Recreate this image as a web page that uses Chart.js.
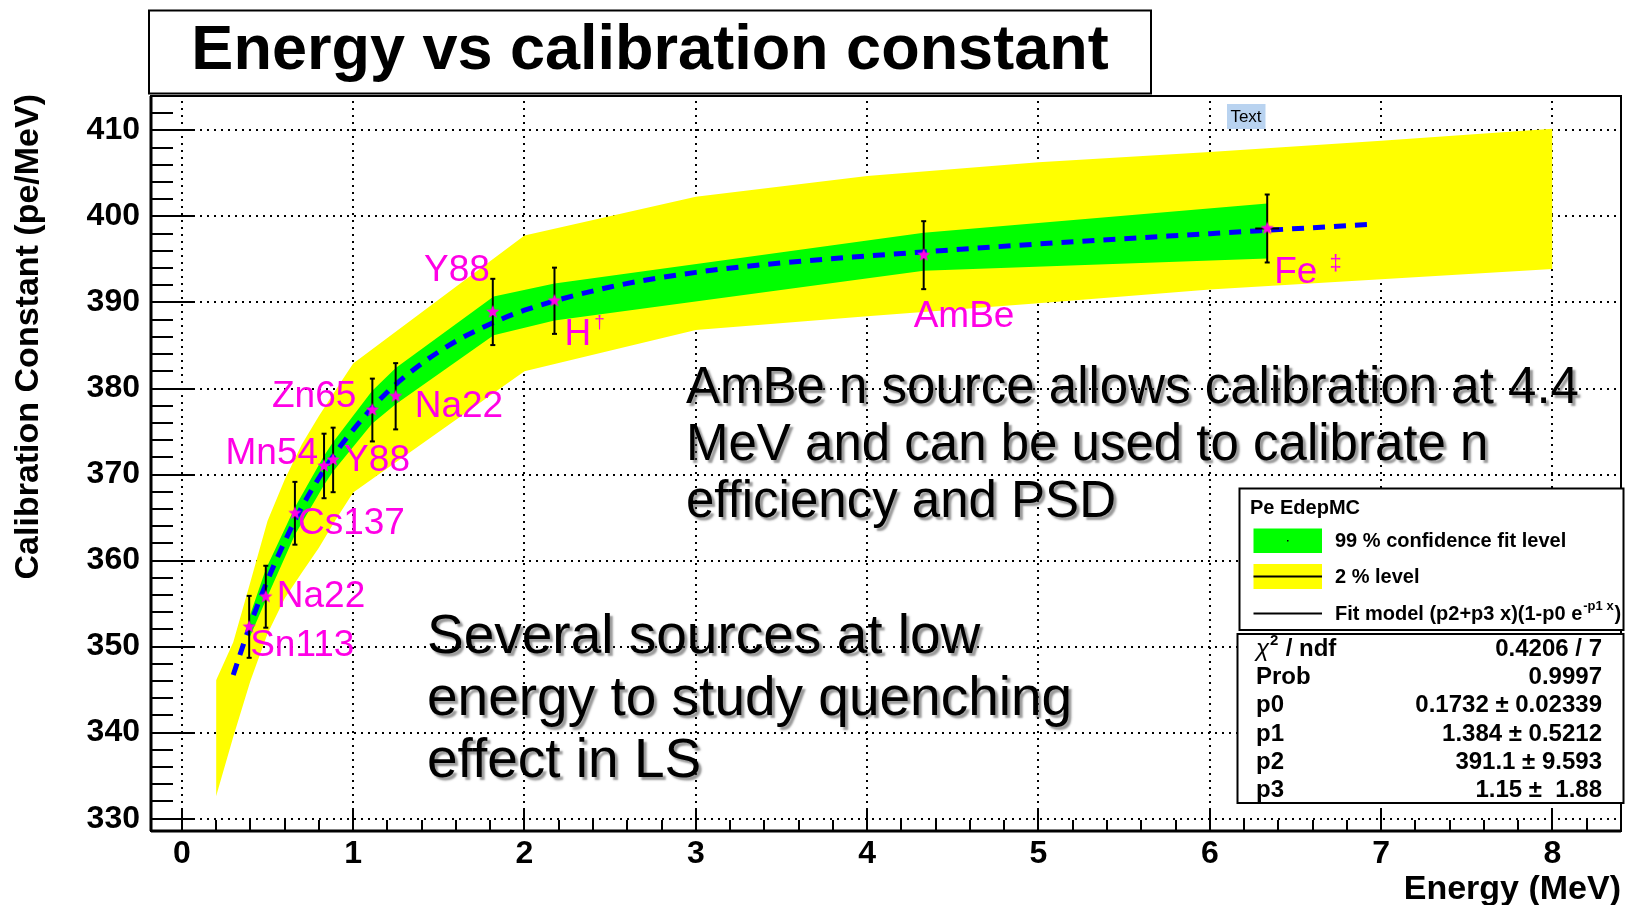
<!DOCTYPE html>
<html>
<head>
<meta charset="utf-8">
<title>Energy vs calibration constant</title>
<script src="https://cdn.jsdelivr.net/npm/chart.js@4.4.1/dist/chart.umd.min.js"></script>
<style>
  html, body { margin: 0; padding: 0; background: #fff; }
  #wrap { width: 1629px; height: 905px; }
</style>
</head>
<body>
<div id="wrap"><canvas id="calib" width="1629" height="905"></canvas></div>
<script>
// calibration sources (energy in MeV, constant in pe/MeV)
const sourceNames = ['Sn113', 'Na22', 'Cs137', 'Mn54', 'Y88', 'Zn65', 'Na22', 'Y88', 'H', 'AmBe', 'Fe'];
const sourceEnergy = [0.393, 0.49, 0.66, 0.83, 0.883, 1.112, 1.248, 1.815, 2.175, 4.33, 6.335];
const sourceCalib = [352.3, 355.8, 365.5, 371.0, 371.7, 377.5, 379.1, 388.9, 390.2, 395.5, 398.6];
const sourceErr = [3.6, 3.6, 3.65, 3.75, 3.75, 3.65, 3.85, 3.85, 3.85, 3.95, 3.95];
const sourceEnergyErr = [0, 0, 0, 0, 0, 0, 0, 0, 0, 0, 0.07];

// fit model
const fitEnergy = [0.3, 0.35, 0.4, 0.5, 0.6, 0.7, 0.8, 0.9, 1.0, 1.2, 1.4, 1.6, 1.8, 2.0, 2.5, 3.0, 3.5, 4.0, 5.0, 6.0, 6.95];
const fitCalib = [346.7, 349.7, 352.6, 357.7, 362.2, 366.2, 369.6, 372.6, 375.2, 379.6, 382.9, 385.5, 387.5, 389.1, 391.8, 393.5, 394.6, 395.4, 396.8, 398.0, 399.1];

// 99 % confidence band (green)
const confEnergy = [0.39, 0.49, 0.66, 0.83, 0.88, 1.11, 1.25, 1.82, 2.175, 4.33, 6.335];
const confHigh = [353.2, 359.0, 366.2, 372.2, 373.7, 379.7, 382.4, 390.7, 392.2, 398.1, 401.5];
const confLow = [350.8, 355.4, 363.0, 368.8, 370.3, 375.9, 378.2, 386.2, 387.9, 393.7, 395.1];

// 2 % level band (yellow)
const levelEnergy = [0.2, 0.3, 0.4, 0.5, 0.6, 0.7, 0.8, 0.9, 1, 2, 3, 4, 5, 6, 7, 8];
const levelHigh = [346.1, 350.5, 357.5, 364.6, 369.4, 373.5, 376.8, 379.9, 382.9, 397.8, 402.3, 404.7, 406.3, 407.5, 408.8, 410.2];
const levelLow = [332.6, 339.5, 346.0, 351.5, 355.6, 358.6, 361.5, 364.8, 367.9, 382.0, 386.8, 388.4, 389.9, 391.5, 392.7, 393.9];

// axis ticks
const xTicks = [0, 1, 2, 3, 4, 5, 6, 7, 8];
const yTicks = [330, 340, 350, 360, 370, 380, 390, 400, 410];

// fit box
const statNames = ['chi', 'Prob', 'p0', 'p1', 'p2', 'p3'];
const statValues = ['0.4206 / 7', '0.9997', '0.1732 \u00b1 0.02339', '1.384 \u00b1 0.5212', '391.1 \u00b1 9.593', '1.15 \u00b1  1.88'];

// where each source name sits relative to its marker (pixels)
const labelPlace = [
	{dx: 1, dy: 19, align: 'left'},
	{dx: 11, dy: 0, align: 'left'},
	{dx: 3, dy: 11, align: 'left'},
	{dx: -6, dy: -12, align: 'right'},
	{dx: 11, dy: 1, align: 'left'},
	{dx: -16, dy: -13, align: 'right'},
	{dx: 19, dy: 11, align: 'left'},
	{dx: -3, dy: -41, align: 'right'},
	{dx: 10, dy: 34, align: 'left', sup: '\u2020'},
	{dx: -10, dy: 62, align: 'left'},
	{dx: 7, dy: 44, align: 'left', sup: '\u2021'}
];

const FONT = '"Liberation Sans", Arial, Helvetica, sans-serif';
const MAGENTA = '#ff00e6';

function makeStar(r, color)
{
	const c = document.createElement('canvas');
	const s = Math.ceil(r * 2 + 2);
	c.width = s;
	c.height = s;
	const g = c.getContext('2d');
	g.beginPath();
	for (let i = 0; i < 10; i++) {
		const a = -Math.PI / 2 + i * Math.PI / 5;
		const rr = i % 2 === 0 ? r : r * 0.42;
		g.lineTo(s / 2 + rr * Math.cos(a), s / 2 + rr * Math.sin(a));
	}
	g.closePath();
	g.fillStyle = color;
	g.fill();
	return c;
}

function pairs(xs, ys) {
	return xs.map((v, i) => ({x: v, y: ys[i]}));
}

function line(ctx, x1, y1, x2, y2) {
	ctx.beginPath();
	ctx.moveTo(x1, y1);
	ctx.lineTo(x2, y2);
	ctx.stroke();
}

function minorValues(ticks, n, lo, hi) {
	const step = (ticks[1] - ticks[0]) / n;
	const out = [];
	for (let v = ticks[0] - step * n; v <= ticks[ticks.length - 1] + step * n + 1e-9; v += step) {
		const r = Math.round(v * 1000) / 1000;
		if (r >= lo && r <= hi && !ticks.includes(r))
			out.push(r);
	}
	return out;
}

function shadowText(ctx, lines, x, y0, dy, size) {
	ctx.save();
	ctx.font = size + 'px ' + FONT;
	ctx.fillStyle = '#000';
	ctx.textAlign = 'left';
	ctx.textBaseline = 'alphabetic';
	ctx.shadowColor = 'rgba(70,70,70,0.55)';
	ctx.shadowOffsetX = 3;
	ctx.shadowOffsetY = 3;
	ctx.shadowBlur = 2;
	lines.forEach((t, i) => ctx.fillText(t, x, y0 + i * dy));
	ctx.restore();
}

const rootDecor = {
	id: 'rootDecor',
	beforeDatasetsDraw(chart) {
		const {ctx, chartArea: a, scales: {x, y}} = chart;
		ctx.save();
		ctx.strokeStyle = '#000';
		ctx.lineWidth = 2;
		ctx.setLineDash([2, 5]);
		xTicks.forEach(v => {
			const p = Math.round(x.getPixelForValue(v));
			line(ctx, p, a.bottom, p, a.top);
		});
		yTicks.forEach(v => {
			const p = Math.round(y.getPixelForValue(v));
			line(ctx, a.left, p, a.right, p);
		});
		ctx.restore();
	},
	beforeDatasetDraw(chart, args) {
		if (args.index !== 5) return;
		const {ctx, scales: {x, y}} = chart;
		ctx.save();
		ctx.strokeStyle = '#000';
		ctx.lineWidth = 2;
		sourceEnergy.forEach((e, i) => {
			const px = x.getPixelForValue(e);
			const top = y.getPixelForValue(sourceCalib[i] + sourceErr[i]);
			const bot = y.getPixelForValue(sourceCalib[i] - sourceErr[i]);
			line(ctx, px, top, px, bot);
			line(ctx, px - 2.5, top, px + 2.5, top);
			line(ctx, px - 2.5, bot, px + 2.5, bot);
			if (sourceEnergyErr[i]) {
				const py = y.getPixelForValue(sourceCalib[i]);
				line(ctx, x.getPixelForValue(e - sourceEnergyErr[i]), py, x.getPixelForValue(e + sourceEnergyErr[i]), py);
			}
		});
		ctx.restore();
	},
	afterDatasetsDraw(chart) {
		const {ctx, chartArea: a, scales: {x, y}} = chart;
		ctx.save();

		// source names
		ctx.fillStyle = MAGENTA;
		ctx.textBaseline = 'middle';
		sourceNames.forEach((name, i) => {
			const p = labelPlace[i];
			const px = x.getPixelForValue(sourceEnergy[i]) + p.dx;
			const py = y.getPixelForValue(sourceCalib[i]) + p.dy;
			ctx.font = '37px ' + FONT;
			ctx.textAlign = p.align;
			ctx.fillText(name, px, py);
			if (p.sup) {
				const w = ctx.measureText(name).width;
				const big = p.sup === '\u2021';
				ctx.font = (big ? 22 : 19) + 'px ' + FONT;
				ctx.textAlign = 'left';
				ctx.fillText(p.sup, px + w + (big ? 12 : 3), py - (big ? 9 : 12));
			}
		});

		// frame and ticks
		ctx.strokeStyle = '#000';
		ctx.lineWidth = 2;
		ctx.strokeRect(a.left, a.top, a.right - a.left, a.bottom - a.top);
		ctx.lineWidth = 3;
		line(ctx, a.left, a.bottom, a.right, a.bottom);
		line(ctx, a.left, a.top, a.left, a.bottom);
		ctx.lineWidth = 2;
		yTicks.forEach(v => {
			const p = Math.round(y.getPixelForValue(v));
			line(ctx, a.left, p, a.left + 44, p);
		});
		minorValues(yTicks, 5, y.min, y.max).forEach(v => {
			const p = Math.round(y.getPixelForValue(v));
			line(ctx, a.left, p, a.left + 22, p);
		});
		xTicks.forEach(v => {
			const p = Math.round(x.getPixelForValue(v));
			line(ctx, p, a.bottom, p, a.bottom - 22);
		});
		minorValues(xTicks, 5, x.min, x.max).forEach(v => {
			const p = Math.round(x.getPixelForValue(v));
			line(ctx, p, a.bottom, p, a.bottom - 11);
		});

		// axis titles
		ctx.fillStyle = '#000';
		ctx.font = 'bold 34px ' + FONT;
		ctx.textAlign = 'right';
		ctx.textBaseline = 'alphabetic';
		ctx.fillText('Energy (MeV)', 1621, 899);
		ctx.save();
		ctx.translate(29, 94);
		ctx.rotate(-Math.PI / 2);
		ctx.textBaseline = 'middle';
		ctx.fillText('Calibration Constant (pe/MeV)', 0, 0);
		ctx.restore();

		// title box
		ctx.fillStyle = '#fff';
		ctx.fillRect(149, 10.5, 1002, 83);
		ctx.strokeRect(149, 10.5, 1002, 83);
		ctx.fillStyle = '#000';
		ctx.font = 'bold 63px ' + FONT;
		ctx.textAlign = 'center';
		ctx.fillText('Energy vs calibration constant', 650, 68.5);

		// little "Text" tag
		ctx.fillStyle = '#b9d3f0';
		ctx.fillRect(1227, 104, 38.5, 25);
		ctx.fillStyle = '#000';
		ctx.font = '17px ' + FONT;
		ctx.textBaseline = 'middle';
		ctx.fillText('Text', 1246, 117, 33);

		// comments
		shadowText(ctx, ['AmBe n source allows calibration at 4.4', 'MeV and can be used to calibrate n', 'efficiency and PSD'], 686, 403, 57, 51);
		shadowText(ctx, ['Several sources at low', 'energy to study quenching', 'effect in LS'], 427, 653, 62, 55);

		// legend
		ctx.lineWidth = 2;
		ctx.fillStyle = '#fff';
		ctx.fillRect(1239.5, 488.5, 384, 141.5);
		ctx.strokeStyle = '#000';
		ctx.strokeRect(1239.5, 488.5, 384, 141.5);
		ctx.fillStyle = '#000';
		ctx.font = 'bold 20px ' + FONT;
		ctx.textAlign = 'left';
		ctx.textBaseline = 'middle';
		ctx.fillText('Pe EdepMC', 1250, 508.5);
		ctx.fillStyle = '#00ff00';
		ctx.fillRect(1253.5, 528.5, 68.5, 24.5);
		ctx.fillStyle = '#000';
		ctx.fillRect(1287, 540, 1.5, 1.5);
		ctx.fillStyle = '#ffff00';
		ctx.fillRect(1253.5, 564, 68.5, 25);
		line(ctx, 1253.5, 576.5, 1322, 576.5);
		line(ctx, 1253.5, 613.5, 1322, 613.5);
		ctx.fillStyle = '#000';
		ctx.fillText('99 % confidence fit level', 1335, 541);
		ctx.fillText('2 % level', 1335, 577);
		const base = 'Fit model (p2+p3 x)(1-p0 e';
		ctx.fillText(base, 1335, 614);
		let wx = 1335 + ctx.measureText(base).width;
		ctx.font = 'bold 13px ' + FONT;
		ctx.fillText('-p1 x', wx + 1, 606);
		wx += ctx.measureText('-p1 x').width + 2;
		ctx.font = 'bold 20px ' + FONT;
		ctx.fillText(')', wx, 614);

		// fit statistics
		ctx.fillStyle = '#fff';
		ctx.fillRect(1237.5, 634, 386, 169);
		ctx.strokeRect(1237.5, 634, 386, 169);
		ctx.fillStyle = '#000';
		statNames.forEach((n, i) => {
			const ry = 649 + i * 28.3;
			ctx.textAlign = 'left';
			if (n === 'chi') {
				ctx.font = 'italic 24px ' + FONT;
				ctx.fillText('\u03c7', 1256, ry);
				ctx.font = 'bold 15px ' + FONT;
				ctx.fillText('2', 1270, ry - 8);
				ctx.font = 'bold 24px ' + FONT;
				ctx.fillText(' / ndf', 1279, ry);
			} else {
				ctx.font = 'bold 24px ' + FONT;
				ctx.fillText(n, 1256, ry);
			}
			ctx.font = 'bold 24px ' + FONT;
			ctx.textAlign = 'right';
			ctx.fillText(statValues[i], 1602, ry);
		});

		ctx.restore();
	}
};

const tickFont = {family: FONT, size: 32, weight: 'bold'};

new Chart(document.getElementById('calib'), {
	type: 'line',
	data: {
		datasets: [
			{
				label: '2 % level',
				data: pairs(levelEnergy, levelHigh),
				fill: '+1',
				backgroundColor: '#ffff00',
				borderWidth: 0,
				pointRadius: 0,
				tension: 0,
				order: 5
			},
			{
				label: '2 % level low',
				data: pairs(levelEnergy, levelLow),
				fill: false,
				borderWidth: 0,
				pointRadius: 0,
				tension: 0,
				order: 5
			},
			{
				label: '99 % confidence fit level',
				data: pairs(confEnergy, confHigh),
				fill: '+1',
				backgroundColor: '#00ff00',
				borderWidth: 0,
				pointRadius: 0,
				tension: 0,
				order: 4
			},
			{
				label: '99 % low',
				data: pairs(confEnergy, confLow),
				fill: false,
				borderWidth: 0,
				pointRadius: 0,
				tension: 0,
				order: 4
			},
			{
				label: 'Fit model',
				data: pairs(fitEnergy, fitCalib),
				borderColor: '#0000ff',
				borderWidth: 5,
				borderDash: [12, 9],
				cubicInterpolationMode: 'monotone',
				pointRadius: 0,
				fill: false,
				order: 3
			},
			{
				label: 'Pe EdepMC',
				data: pairs(sourceEnergy, sourceCalib),
				showLine: false,
				pointStyle: makeStar(7, MAGENTA),
				pointRadius: 7,
				order: 1
			}
		]
	},
	options: {
		responsive: false,
		animation: false,
		events: [],
		layout: {padding: {top: 96, right: 6, bottom: 0, left: 0}},
		plugins: {
			legend: {display: false},
			tooltip: {enabled: false}
		},
		scales: {
			x: {
				type: 'linear',
				min: -0.18,
				max: 8.4,
				afterBuildTicks: s => { s.ticks = xTicks.map(v => ({value: v})); },
				afterFit: s => { s.height = 74; },
				grid: {display: false, drawTicks: false},
				border: {display: false},
				ticks: {font: tickFont, color: '#000', padding: 4, maxRotation: 0, autoSkip: false, callback: v => String(v)}
			},
			y: {
				type: 'linear',
				min: 328.57,
				max: 414,
				afterBuildTicks: s => { s.ticks = yTicks.map(v => ({value: v})); },
				afterFit: s => { s.width = 151; },
				grid: {display: false, drawTicks: false},
				border: {display: false},
				ticks: {font: tickFont, color: '#000', padding: 11, autoSkip: false, callback: v => String(v)}
			}
		}
	},
	plugins: [rootDecor]
});
</script>
</body>
</html>
